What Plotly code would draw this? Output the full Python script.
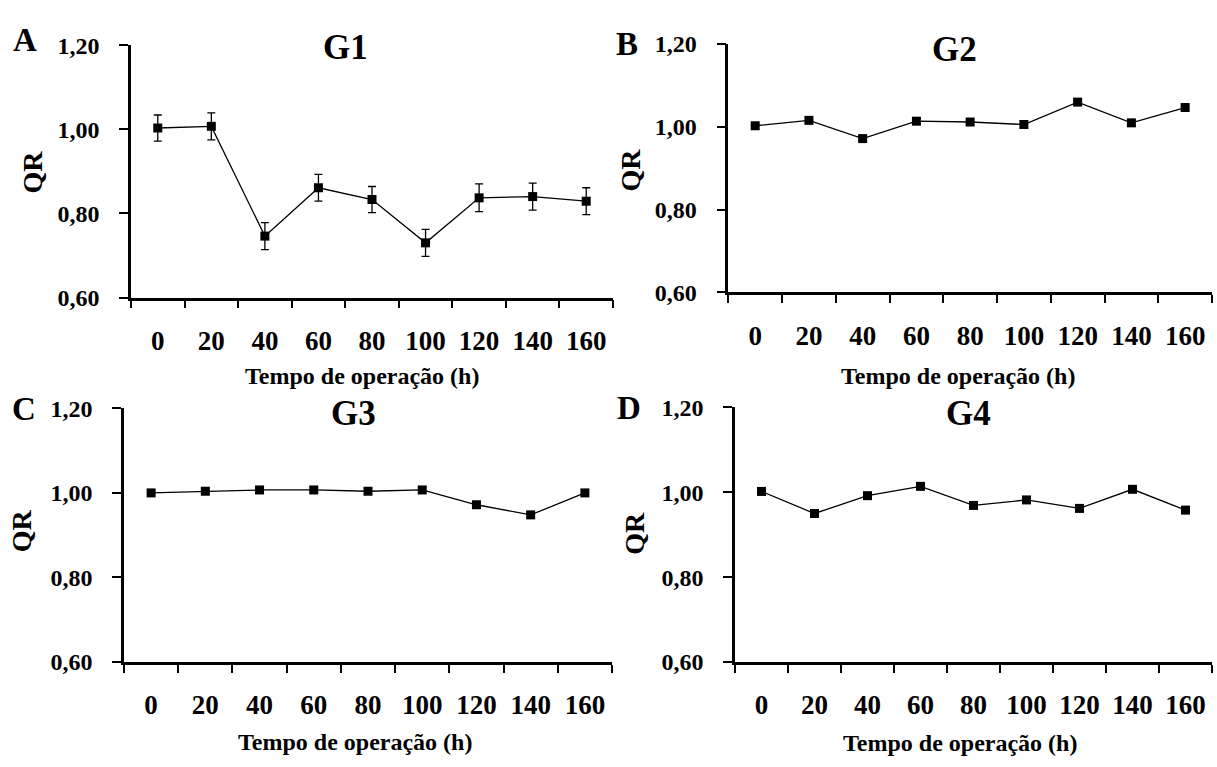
import plotly.graph_objects as go

# Operating time categories (h) and QR series with their standard errors
hours = ["0", "20", "40", "60", "80", "100", "120", "140", "160"]

qr_g1 = [1.003, 1.007, 0.746, 0.861, 0.833, 0.730, 0.837, 0.840, 0.829]
err_g1 = [0.031, 0.032, 0.032, 0.032, 0.031, 0.032, 0.033, 0.032, 0.032]

qr_g2 = [1.002, 1.015, 0.971, 1.013, 1.011, 1.005, 1.059, 1.009, 1.046]
err_g2 = [0.006, 0.006, 0.006, 0.007, 0.006, 0.006, 0.006, 0.006, 0.006]

qr_g3 = [1.000, 1.004, 1.007, 1.007, 1.004, 1.007, 0.972, 0.948, 1.000]
err_g3 = [0.006, 0.006, 0.006, 0.006, 0.006, 0.006, 0.006, 0.006, 0.006]

qr_g4 = [1.002, 0.950, 0.992, 1.014, 0.969, 0.982, 0.962, 1.007, 0.958]
err_g4 = [0.006, 0.006, 0.006, 0.006, 0.006, 0.006, 0.006, 0.006, 0.006]

y_ticks = [0.60, 0.80, 1.00, 1.20]
y_tick_text = ["0,60", "0,80", "1,00", "1,20"]

panel_titles = ["G1", "G2", "G3", "G4"]
panel_letters = ["A", "B", "C", "D"]
x_title = "Tempo de operação (h)"
y_title = "QR"

W, H = 1217, 767
FONT = "Liberation Serif"

series = [(qr_g1, err_g1), (qr_g2, err_g2), (qr_g3, err_g3), (qr_g4, err_g4)]

# plot-area boxes in pixels: (left, right, top, bottom)
boxes = [
    (131, 613, 33.3, 294.5),
    (728.3, 1212, 31.7, 289.3),
    (124, 612, 409.3, 671.7),
    (735, 1212, 408.3, 671.7),
]

# label anchor points in pixels
letter_pos = [(24.5, 28), (627, 32), (23.5, 410), (629, 409)]
title_pos = [(345, 36), (954, 38), (353, 415), (968, 415)]
qr_pos = [(32, 165), (630, 163), (21.5, 536), (635, 539)]
xtitle_pos = [(362, 376), (958, 376), (355, 755), (960, 756)]


def px(x):
    return x / W


def py(y):
    return 1 - y / H


def bold_font(size):
    return dict(family=FONT, size=size, color="black", weight="bold")


fig = go.Figure()
layout = dict(
    width=W,
    height=H,
    margin=dict(l=0, r=0, t=0, b=0),
    paper_bgcolor="white",
    plot_bgcolor="white",
    showlegend=False,
    font=bold_font(24),
)

annotations = []
for i, ((vals, errs), (l, r, t, b)) in enumerate(zip(series, boxes)):
    n = "" if i == 0 else str(i + 1)
    fig.add_trace(go.Scatter(
        x=hours,
        y=vals,
        xaxis="x" + n,
        yaxis="y" + n,
        mode="lines+markers",
        line=dict(color="black", width=1.3),
        marker=dict(symbol="square", size=9, color="black"),
        error_y=dict(type="data", array=errs, visible=True,
                     color="black", thickness=1.3, width=4),
        cliponaxis=False,
    ))
    layout["xaxis" + n] = dict(
        type="category",
        domain=[px(l), px(r)],
        anchor="y" + n,
        range=[-0.5, 8.5],
        tickson="boundaries",
        ticks="outside",
        ticklen=8,
        tickwidth=2,
        tickcolor="black",
        showline=True,
        linecolor="black",
        linewidth=2.5,
        showgrid=False,
        zeroline=False,
        ticklabelstandoff=17,
        tickfont=bold_font(27),
    )
    layout["yaxis" + n] = dict(
        domain=[py(b), py(t)],
        anchor="x" + n,
        range=[0.6, 1.2],
        tickmode="array",
        tickvals=y_ticks,
        ticktext=y_tick_text,
        ticks="outside",
        ticklen=9,
        tickwidth=2,
        tickcolor="black",
        showline=True,
        linecolor="black",
        linewidth=2.5,
        showgrid=False,
        zeroline=False,
        ticklabelstandoff=15,
        tickfont=bold_font(24),
    )

    def add_text(text, pos, size, angle=0):
        annotations.append(dict(
            text=text, x=px(pos[0]), y=py(pos[1]), xref="paper", yref="paper",
            xanchor="center", yanchor="middle", showarrow=False, textangle=angle,
            font=bold_font(size),
        ))

    add_text(panel_letters[i], letter_pos[i], 33)
    add_text(panel_titles[i], title_pos[i], 35)
    add_text(y_title, qr_pos[i], 28, angle=-90)
    add_text(x_title, xtitle_pos[i], 24)

layout["annotations"] = annotations
fig.update_layout(**layout)
fig.write_html("out.html")
